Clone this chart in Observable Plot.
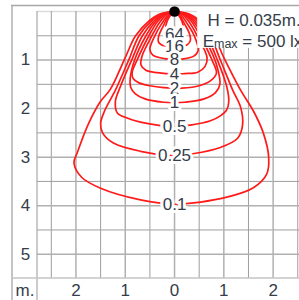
<!DOCTYPE html>
<html><head><meta charset="utf-8">
<script src="https://cdn.jsdelivr.net/npm/d3@7"></script>
<script src="https://cdn.jsdelivr.net/npm/@observablehq/plot@0.6"></script>
<style>
html,body{margin:0;padding:0;background:#fff;}
#chart{width:299px;height:300px;overflow:hidden;position:relative;}
</style></head><body><div id="chart"></div>
<script>
// Isolux levels and label depths (m)
const levels = ["64", "16", "8", "4", "2", "1", "0.5", "0.25", "0.1"];
const labelDepth = [0.47, 0.73, 0.99, 1.29, 1.58, 1.88, 2.37, 2.97, 3.97];

// Contour outlines [x, depth], from the luminaire around and back
const c64 = [[0,0],[-0.07,0.06],[-0.15,0.2],[-0.18,0.35],[-0.13,0.44],[0,0.47],[0.13,0.44],[0.18,0.35],[0.15,0.2],[0.07,0.06],[0,0]];
const c16 = [[0,0],[-0.1,0.06],[-0.22,0.28],[-0.32,0.5],[-0.33,0.62],[-0.26,0.69],[-0.1,0.72],[0,0.72],[0.1,0.72],[0.25,0.69],[0.32,0.6],[0.3,0.45],[0.2,0.25],[0.09,0.06],[0,0]];
const c8 = [[0,0],[-0.12,0.06],[-0.26,0.25],[-0.4,0.5],[-0.5,0.78],[-0.44,0.9],[-0.2,0.97],[0,0.99],[0.15,0.98],[0.39,0.92],[0.48,0.8],[0.4,0.5],[0.25,0.24],[0.12,0.06],[0,0]];
const c4 = [[0,0],[-0.15,0.05],[-0.3,0.22],[-0.46,0.5],[-0.66,0.92],[-0.68,1.1],[-0.58,1.21],[-0.35,1.26],[0,1.29],[0.2,1.28],[0.47,1.25],[0.62,1.13],[0.66,0.95],[0.46,0.5],[0.3,0.22],[0.15,0.05],[0,0]];
const c2 = [[0,0],[-0.18,0.05],[-0.34,0.2],[-0.52,0.5],[-0.76,1.0],[-0.86,1.25],[-0.84,1.38],[-0.72,1.47],[-0.5,1.53],[-0.22,1.57],[0,1.58],[0.15,1.58],[0.5,1.53],[0.74,1.42],[0.85,1.27],[0.76,1.0],[0.52,0.5],[0.34,0.2],[0.18,0.05],[0,0]];
const c1 = [[0,0],[-0.21,0.05],[-0.38,0.2],[-0.58,0.5],[-0.81,1.0],[-0.9,1.38],[-0.89,1.56],[-0.8,1.69],[-0.6,1.8],[-0.22,1.87],[0,1.88],[0.2,1.87],[0.6,1.8],[0.83,1.67],[0.92,1.5],[0.88,1.2],[0.78,0.9],[0.58,0.5],[0.38,0.2],[0.21,0.05],[0,0]];
const c05 = [[0,0],[-0.24,0.05],[-0.42,0.2],[-0.65,0.5],[-0.87,1.0],[-1.1,1.55],[-1.2,1.85],[-1.16,2.09],[-0.95,2.2],[-0.69,2.28],[-0.35,2.34],[0,2.37],[0.32,2.34],[0.73,2.25],[0.93,2.15],[1.05,2.04],[1.1,1.87],[1.06,1.55],[0.87,1.0],[0.65,0.5],[0.42,0.2],[0.24,0.05],[0,0]];
const c025 = [[0,0],[-0.27,0.05],[-0.46,0.19],[-0.72,0.5],[-0.93,1.0],[-1.2,1.62],[-1.42,2.05],[-1.5,2.3],[-1.46,2.5],[-1.24,2.71],[-0.69,2.88],[0,2.97],[0.37,2.93],[0.93,2.8],[1.28,2.61],[1.38,2.34],[1.34,1.97],[1.18,1.62],[0.93,1.0],[0.72,0.5],[0.46,0.19],[0.27,0.05],[0,0]];
const c01 = [[0,0],[-0.3,0.05],[-0.5,0.18],[-0.79,0.5],[-1.0,0.95],[-1.3,1.6],[-1.5,1.85],[-1.74,2.3],[-1.97,2.9],[-2.04,3.12],[-1.88,3.42],[-1.5,3.64],[-0.69,3.88],[0,3.97],[0.5,3.93],[1.08,3.82],[1.6,3.63],[1.87,3.35],[1.91,3.0],[1.8,2.5],[1.6,2.05],[1.34,1.62],[1.0,0.95],[0.79,0.5],[0.5,0.18],[0.3,0.05],[0,0]];
const contours = [c64, c16, c8, c4, c2, c1, c05, c025, c01];

const xTicks = [-2, -1, 0, 1, 2];
const yTicks = [1, 2, 3, 4, 5];
const xMajor = [-2, -1, 0, 1, 2];
const xMinor = [-2.5, -1.5, -0.5, 0.5, 1.5, 2.5];
const yMajor = [1, 2, 3, 4, 5];
const yMinor = [0.5, 1.5, 2.5, 3.5, 4.5];
const heightText = "H = 0.035m.";
const emaxText = "Emax = 500 lx";

const pts = contours.flatMap((c, i) => c.map(([x, y]) => ({x, y, level: levels[i]})));
const labels = levels.map((t, i) => ({t, y: labelDepth[i]}));

const txt = "#353d4a";
const font = "'Liberation Sans', Arial, Helvetica, sans-serif";

const plot = Plot.plot({
  width: 299, height: 300,
  marginLeft: 37, marginTop: 11, marginBottom: 22, marginRight: 0,
  style: {fontFamily: font, background: "#fff", overflow: "visible"},
  x: {domain: [-2.78, 2.535], range: [37, 299]},
  y: {domain: [0, 5.5], range: [11, 278]},
  marks: [
    Plot.ruleY([0], {stroke: "#dcdcdc", strokeWidth: 1.5}),
    Plot.ruleX(xMinor, {y1: 0, y2: 5.5, stroke: "#9e9e9e", strokeWidth: 1}),
    Plot.ruleY(yMinor, {stroke: "#9e9e9e", strokeWidth: 1}),
    Plot.ruleX(xMajor, {y1: 0, y2: 5.5, stroke: "#b0b0b0", strokeWidth: 1.5}),
    Plot.ruleY(yMajor, {stroke: "#b0b0b0", strokeWidth: 1.5}),
    Plot.line(pts, {x: "x", y: "y", z: "level", stroke: "#ff1a1a", strokeWidth: 1.7, curve: "catmull-rom"}),
    Plot.rect([0], {x1: 0.47, x2: 2.535, y1: -0.11, y2: 0.76, fill: "#fff"}),
    Plot.text(labels, {x: 0, y: "y", text: "t", fill: txt, stroke: "#fff", strokeWidth: 6, fontSize: 17, lineAnchor: "middle"}),
    Plot.text([heightText], {x: 0.67, y: 0.185, text: d => d, textAnchor: "start", lineAnchor: "middle", fill: txt, fontSize: 17}),
    Plot.text([emaxText], {x: 0.57, y: 0.62, text: d => d, textAnchor: "start", lineAnchor: "middle", fill: txt, fontSize: 17}),
    Plot.dot([0], {x: 0, y: 0, r: 5.3, fill: "#000", stroke: "none"}),
    Plot.axisX(xTicks, {anchor: "bottom", tickSize: 0, tickPadding: 5, fontSize: 17, fill: txt, tickFormat: d => Math.abs(d), label: null}),
    Plot.axisY(yTicks, {anchor: "left", tickSize: 0, tickPadding: 12, textAnchor: "middle", fontSize: 17, fill: txt, label: null}),
    Plot.text(["m."], {frameAnchor: "bottom-left", dx: -22, dy: 5, textAnchor: "start", lineAnchor: "top", fontSize: 17, fill: txt})
  ]
});
document.getElementById("chart").appendChild(plot);

// Split "Emax" into E + small "max"
const svg = d3.select(plot);
svg.selectAll("text").filter(function(){ return this.textContent === emaxText; }).each(function(){
  const t = d3.select(this);
  t.text(null);
  t.append("tspan").text("E");
  t.append("tspan").attr("font-size", 12.5).attr("dy", 1).text("max");
  t.append("tspan").attr("dy", -1).text(" = 500 lx");
});
// Table frame lines
const fr = svg.append("g").attr("stroke-linecap", "butt");
fr.append("line").attr("x1", 12).attr("x2", 12).attr("y1", 5).attr("y2", 300).attr("stroke", "#c4c4c4").attr("stroke-width", 2);
fr.append("line").attr("x1", 11).attr("x2", 299).attr("y1", 5.5).attr("y2", 5.5).attr("stroke", "#a8a8a8").attr("stroke-width", 1.5);
fr.append("line").attr("x1", 37).attr("x2", 37).attr("y1", 11).attr("y2", 300).attr("stroke", "#a8a8a8").attr("stroke-width", 1.2);
fr.append("line").attr("x1", 12).attr("x2", 299).attr("y1", 278).attr("y2", 278).attr("stroke", "#c4c4c4").attr("stroke-width", 1.5);
</script></body></html>
